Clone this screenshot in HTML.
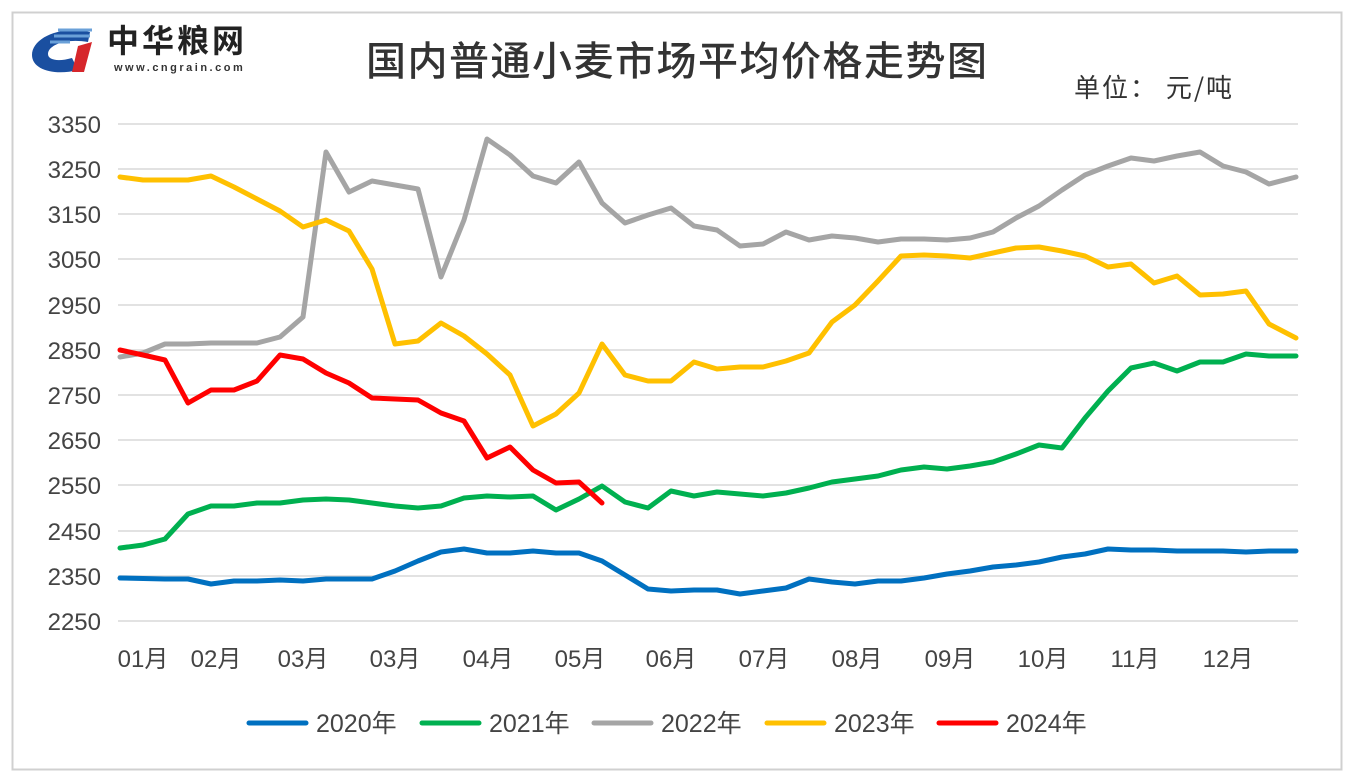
<!DOCTYPE html>
<html><head><meta charset="utf-8"><style>
body{margin:0;background:#fff;}
svg{display:block;font-family:"Liberation Sans","Noto Sans CJK SC",sans-serif;}
</style></head><body>
<svg width="1354" height="780" viewBox="0 0 1354 780">
<rect x="12.5" y="12.5" width="1329" height="757" fill="#fff" stroke="#d0d0d0" stroke-width="2"/>
<!-- logo -->
<path d="M90,32 C60,25 32,38 32,55 C32,70 55,76 78,70 L72,58 C58,62 48,60 48,54 C48,45 66,38 88,42 Z" fill="#1a4fa0"/>
<path d="M58,30 L92,30 M54,36 L90,36 M50,42 L70,42" stroke="#6aa0d8" stroke-width="3"/>
<path d="M78,46 L92,42 L84,72 L72,72 Z" fill="#d6262b"/>
<text x="107" y="52" font-size="32" font-weight="bold" fill="#222" font-family="'Noto Sans CJK SC',sans-serif" letter-spacing="3">中华粮网</text>
<text x="114" y="71" font-size="11" font-weight="bold" fill="#333" letter-spacing="2.5">www.cngrain.com</text>
<text x="366" y="75" font-size="40" font-weight="500" fill="#333" font-family="'Noto Sans CJK SC',sans-serif" letter-spacing="1.5">国内普通小麦市场平均价格走势图</text>
<text x="1074" y="97" font-size="26" fill="#333" font-family="'Noto Sans CJK SC',sans-serif" letter-spacing="2">单位： 元/吨</text>
<g stroke="#d9d9d9" stroke-width="1.5">
<line x1="118" x2="1298" y1="124" y2="124"/><line x1="118" x2="1298" y1="169" y2="169"/>
<line x1="118" x2="1298" y1="214" y2="214"/><line x1="118" x2="1298" y1="259" y2="259"/>
<line x1="118" x2="1298" y1="305" y2="305"/><line x1="118" x2="1298" y1="350" y2="350"/>
<line x1="118" x2="1298" y1="395" y2="395"/><line x1="118" x2="1298" y1="440" y2="440"/>
<line x1="118" x2="1298" y1="485" y2="485"/><line x1="118" x2="1298" y1="531" y2="531"/>
<line x1="118" x2="1298" y1="576" y2="576"/><line x1="118" x2="1298" y1="621" y2="621"/>
</g>
<g font-size="24" fill="#444" text-anchor="end">
<text x="101" y="133">3350</text><text x="101" y="178">3250</text><text x="101" y="223">3150</text>
<text x="101" y="268">3050</text><text x="101" y="314">2950</text><text x="101" y="359">2850</text>
<text x="101" y="404">2750</text><text x="101" y="449">2650</text><text x="101" y="494">2550</text>
<text x="101" y="540">2450</text><text x="101" y="585">2350</text><text x="101" y="630">2250</text>
</g>
<g font-size="24" fill="#444" text-anchor="middle" font-family="'Liberation Sans','Noto Sans CJK SC',sans-serif">
<text x="143" y="667">01月</text><text x="216" y="667">02月</text><text x="303" y="667">03月</text>
<text x="395" y="667">03月</text><text x="488" y="667">04月</text><text x="580" y="667">05月</text>
<text x="671" y="667">06月</text><text x="764" y="667">07月</text><text x="857" y="667">08月</text>
<text x="950" y="667">09月</text><text x="1043" y="667">10月</text><text x="1135" y="667">11月</text>
<text x="1228" y="667">12月</text>
</g>
<g fill="none" stroke-width="5" stroke-linejoin="round" stroke-linecap="round">
<polyline stroke="#0070c0" points="120,578 165,579 188,579 211,584 234,581 257,581 280,580 303,581 326,579 372,579 395,571 418,561 441,552 464,549 487,553 510,553 533,551 556,553 579,553 602,561 625,575 648,589 671,591 694,590 717,590 740,594 763,591 786,588 809,579 832,582 855,584 878,581 901,581 924,578 947,574 970,571 993,567 1016,565 1039,562 1062,557 1085,554 1108,549 1131,550 1154,550 1177,551 1200,551 1223,551 1246,552 1269,551 1296,551"/>
<polyline stroke="#00b050" points="120,548 143,545 165,539 188,514 211,506 234,506 257,503 280,503 303,500 326,499 349,500 372,503 395,506 418,508 441,506 464,498 487,496 510,497 533,496 556,510 579,499 602,486 625,502 648,508 671,491 694,496 717,492 740,494 763,496 786,493 809,488 832,482 855,479 878,476 901,470 924,467 947,469 970,466 993,462 1016,454 1039,445 1062,448 1085,418 1108,391 1131,368 1154,363 1177,371 1200,362 1223,362 1246,354 1269,356 1296,356"/>
<polyline stroke="#a5a5a5" points="120,357 143,353 165,344 188,344 211,343 234,343 257,343 280,337 303,317 326,152 349,192 372,181 395,185 418,189 441,277 464,220 487,139 510,155 533,176 556,183 579,162 602,203 625,223 648,215 671,208 694,226 717,230 740,246 763,244 786,232 809,240 832,236 855,238 878,242 901,239 924,239 947,240 970,238 993,232 1016,218 1039,206 1062,190 1085,175 1108,166 1131,158 1154,161 1177,156 1200,152 1223,166 1246,172 1269,184 1296,177"/>
<polyline stroke="#ffc000" points="120,177 143,180 165,180 188,180 211,176 234,187 257,199 280,211 303,227 326,220 349,231 372,269 395,344 418,341 441,323 464,336 487,354 510,375 533,426 556,414 579,393 602,344 625,375 648,381 671,381 694,362 717,369 740,367 763,367 786,361 809,353 832,322 855,305 878,281 901,256 924,255 947,256 970,258 993,253 1016,248 1039,247 1062,251 1085,256 1108,267 1131,264 1154,283 1177,276 1200,295 1223,294 1246,291 1269,324 1296,338"/>
<polyline stroke="#ff0000" points="120,350 143,355 165,360 188,403 211,390 234,390 257,381 280,355 303,359 326,373 349,383 372,398 395,399 418,400 441,413 464,421 487,458 510,447 533,470 556,483 579,482 602,503"/>
</g>
<g stroke-width="5" stroke-linecap="round">
<line x1="249" x2="306" y1="723" y2="723" stroke="#0070c0"/>
<line x1="422" x2="479" y1="723" y2="723" stroke="#00b050"/>
<line x1="594" x2="651" y1="723" y2="723" stroke="#a5a5a5"/>
<line x1="767" x2="824" y1="723" y2="723" stroke="#ffc000"/>
<line x1="939" x2="996" y1="723" y2="723" stroke="#ff0000"/>
</g>
<g font-size="25" fill="#444" font-family="'Liberation Sans','Noto Sans CJK SC',sans-serif">
<text x="316" y="732">2020年</text><text x="489" y="732">2021年</text><text x="661" y="732">2022年</text>
<text x="834" y="732">2023年</text><text x="1006" y="732">2024年</text>
</g>
</svg>
</body></html>
